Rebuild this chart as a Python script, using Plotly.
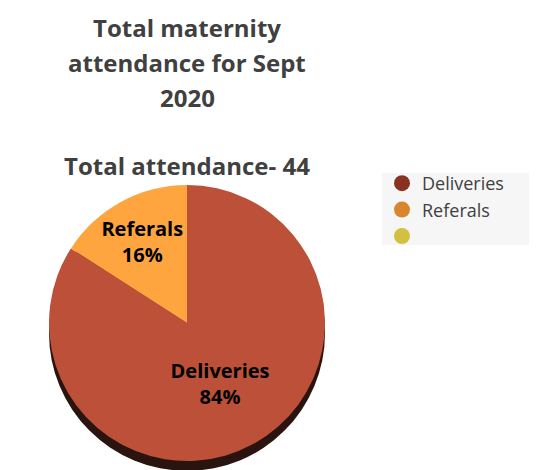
import plotly.graph_objects as go

labels = ["Deliveries", "Referals", ""]
values = [37, 7, 0]
slice_colors = ["#BC5038", "#FFA540", "#D9C441"]
legend_colors = ["#8A3222", "#D8862E", "#D4C040"]
title_lines = ["Total maternity", "attendance for Sept", "2020"]
subtitle_text = "Total attendance- 44"

W, H = 537, 470
OFF = 8  # page body margin in the browser
cx, cy, r = 187, 323, 138


def px(x):
    return (x - OFF) / W


def py(y):
    return 1 - (y - OFF) / H


fig = go.Figure()

fig.add_trace(go.Pie(
    labels=labels,
    values=values,
    sort=False,
    direction="clockwise",
    rotation=0,
    marker=dict(colors=slice_colors, line=dict(width=0)),
    texttemplate=["%{label}<br>%{percent:.0%}", "%{label}<br>%{percent:.0%}", ""],
    textposition="inside",
    insidetextorientation="horizontal",
    textfont=dict(family="Open Sans", size=20, color="#000000", weight="bold"),
    domain=dict(x=[px(cx - r), px(cx + r)], y=[py(cy + r), py(cy - r)]),
    showlegend=False,
    hoverinfo="label+percent",
))

for name, col in zip(labels, legend_colors):
    fig.add_trace(go.Scatter(
        x=[None], y=[None], mode="markers", name=name if name else " ",
        marker=dict(symbol="circle", size=16, color=col),
    ))

title_font = dict(family="Open Sans", size=24, color="#404040", weight="bold")
annotations = []
for text, yc in zip(title_lines, [28, 62, 97]):
    annotations.append(dict(text=text, x=px(187), y=py(yc), xref="paper", yref="paper",
                            xanchor="center", yanchor="middle", showarrow=False,
                            font=title_font))
annotations.append(dict(text=subtitle_text, x=px(187), y=py(166), xref="paper", yref="paper",
                        xanchor="center", yanchor="middle", showarrow=False,
                        font=title_font))

fig.update_layout(
    width=W, height=H,
    margin=dict(l=0, r=0, t=0, b=0),
    paper_bgcolor="white",
    plot_bgcolor="rgba(0,0,0,0)",
    xaxis=dict(visible=False),
    yaxis=dict(visible=False),
    uniformtext=dict(minsize=20, mode="show"),
    legend=dict(
        x=px(382), y=py(165), xanchor="left", yanchor="top",
        bgcolor="rgba(0,0,0,0)",
        font=dict(family="Open Sans", size=18, color="#404040"),
        tracegroupgap=0,
    ),
    shapes=[
        dict(type="circle", xref="paper", yref="paper", layer="below",
             x0=px(cx - r), x1=px(cx + r),
             y0=py(cy + r + 10), y1=py(cy - r + 10),
             fillcolor="#2A1410", line=dict(width=0)),
        dict(type="rect", xref="paper", yref="paper", layer="below",
             x0=px(382), x1=px(545), y0=py(245), y1=py(173),
             fillcolor="#F6F6F6", line=dict(width=0)),
    ],
    annotations=annotations,
)

fig.write_html("out.html")
